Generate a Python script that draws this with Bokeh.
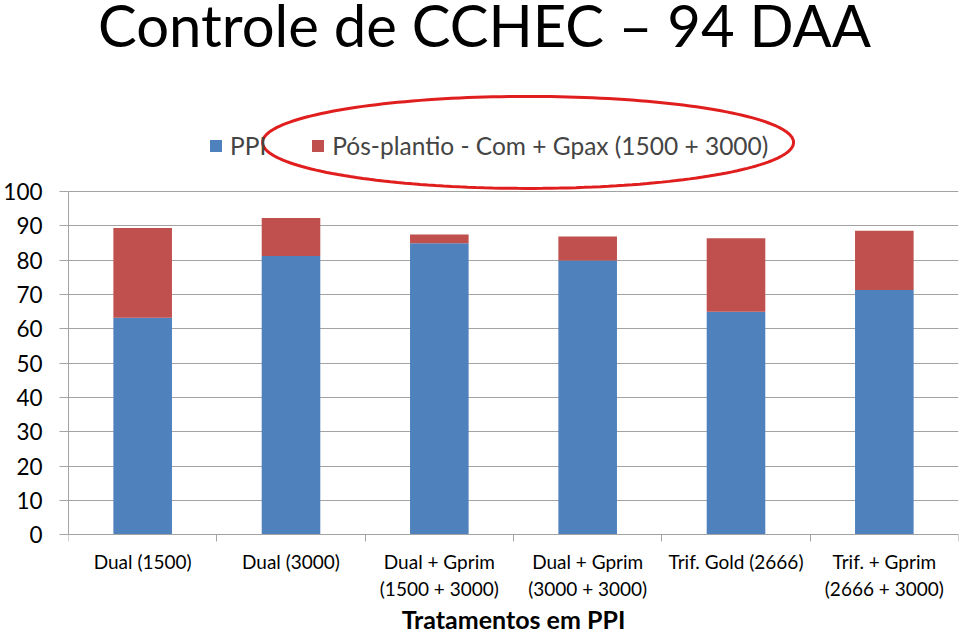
import numpy as np
from bokeh.plotting import figure
from bokeh.models import (ColumnDataSource, Range1d, FixedTicker, LinearAxis, Legend,
                          LegendItem, Label, PolyAnnotation)
from bokeh.embed import file_html
from bokeh.resources import INLINE

title_text = "Controle de CCHEC – 94 DAA"
categories = ["Dual (1500)", "Dual (3000)", "Dual + Gprim\n(1500 + 3000)",
              "Dual + Gprim\n(3000 + 3000)", "Trif. Gold (2666)", "Trif. + Gprim\n(2666 + 3000)"]
series_names = ["PPI", "Pós-plantio - Com + Gpax (1500 + 3000)"]
ppi = [63.2, 81.2, 84.9, 79.9, 65.0, 71.3]
pos_plantio = [26.2, 11.1, 2.6, 7.0, 21.4, 17.3]
y_ticks = list(range(0, 101, 10))
x_axis_title = "Tratamentos em PPI"

FONT = "Lato"
BLUE = "#4F81BD"
RED = "#C0504D"
GRID = "#a3a3a3"

W, H = 960, 633
LEFT, RIGHT = 67, 2
Y0_PX = 534.3          # canvas y of value 0
PX_PER_UNIT = 3.433
y_top = Y0_PX / PX_PER_UNIT
y_bot = -(H - Y0_PX) / PX_PER_UNIT

x_pos = [i + 0.5 for i in range(len(categories))]
src = ColumnDataSource(dict(x=x_pos, ppi=ppi, pos=pos_plantio))

p = figure(width=W, height=H, output_backend="svg", toolbar_location=None,
           x_range=Range1d(0, len(categories)), y_range=Range1d(y_bot, y_top),
           min_border_left=LEFT, min_border_right=RIGHT, min_border_top=0, min_border_bottom=0)
p.outline_line_color = None
p.background_fill_color = "white"
p.border_fill_color = "white"

rs = p.vbar_stack(["ppi", "pos"], x="x", width=0.395, source=src,
                  color=[BLUE, RED], line_color=None)

# y axis
p.yaxis.ticker = FixedTicker(ticks=y_ticks)
p.yaxis.bounds = (0, 100)
p.yaxis.axis_line_color = GRID
p.yaxis.major_tick_line_color = GRID
p.yaxis.major_tick_out = 9
p.yaxis.major_tick_in = 0
p.yaxis.minor_tick_line_color = None
p.yaxis.major_label_text_font = FONT
p.yaxis.major_label_text_font_size = "22.5px"
p.yaxis.major_label_text_color = "black"
p.yaxis.major_label_standoff = 17
p.ygrid.ticker = FixedTicker(ticks=y_ticks)
p.ygrid.bounds = (0, 100)
p.ygrid.grid_line_color = GRID
p.xgrid.grid_line_color = None

# x axis (boundary ticks) fixed at y = 0
p.xaxis.fixed_location = 0
p.xaxis.ticker = FixedTicker(ticks=list(range(len(categories) + 1)))
p.xaxis.axis_line_color = GRID
p.xaxis.major_tick_line_color = GRID
p.xaxis.major_tick_out = 7
p.xaxis.major_tick_in = 0
p.xaxis.minor_tick_line_color = None
p.xaxis.major_label_text_font_size = "0px"
p.xaxis.major_label_standoff = 0

# x axis labels at category centers
lab_axis = LinearAxis(ticker=FixedTicker(ticks=x_pos), fixed_location=0,
                      major_label_overrides={x: c for x, c in zip(x_pos, categories)})
lab_axis.axis_line_color = None
lab_axis.major_tick_line_color = None
lab_axis.minor_tick_line_color = None
lab_axis.major_tick_out = 0
lab_axis.major_tick_in = 0
lab_axis.major_label_text_font = FONT
lab_axis.major_label_text_font_size = "19px"
lab_axis.major_label_text_color = "black"
lab_axis.major_label_standoff = 15
lab_axis.axis_label = x_axis_title
lab_axis.axis_label_text_font = FONT
lab_axis.axis_label_text_font_style = "bold"
lab_axis.axis_label_text_font_size = "25px"
lab_axis.axis_label_text_color = "black"
lab_axis.axis_label_standoff = 1
p.add_layout(lab_axis, "below")

# legend
legend = Legend(items=[LegendItem(label=series_names[0], renderers=[rs[0]]),
                       LegendItem(label=series_names[1], renderers=[rs[1]])],
                orientation="horizontal", location=(140, 473),
                label_text_font=FONT, label_text_font_size="24.5px",
                glyph_width=15, glyph_height=15, label_standoff=7, spacing=44,
                padding=0, margin=0, border_line_color=None, background_fill_alpha=0)
p.add_layout(legend, "center")

# title
p.add_layout(Label(x=416, y=H - 24, x_units="screen", y_units="screen", text=title_text,
                   text_font=FONT, text_font_size="58px", text_align="center",
                   text_baseline="alphabetic", text_color="black"))

# red ellipse highlight (decoration)
t = np.linspace(0, 2 * np.pi, 200)
cx, cy, ax_, ay_ = 3.098, 114.3, 1.79, 13.4
p.add_layout(PolyAnnotation(xs=list(cx + ax_ * np.cos(t)), ys=list(cy + ay_ * np.sin(t)),
                            fill_color=None, fill_alpha=0, line_color="#e01e1e",
                            line_alpha=1.0, line_width=3))

open("out.html", "w").write(file_html(p, INLINE))
